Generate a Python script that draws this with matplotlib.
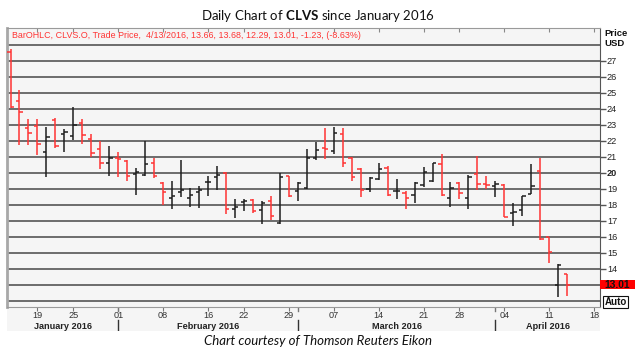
import matplotlib.pyplot as plt
import numpy as np
import pandas as pd
from matplotlib.patches import Rectangle
from matplotlib.transforms import blended_transform_factory

plt.rcParams["mathtext.fontset"] = "custom"
plt.rcParams["mathtext.rm"] = "Lato"
plt.rcParams["mathtext.bf"] = "Lato:bold"

# trading days shown on the axis (data runs to 4/13, axis to 4/18)
holidays = ["2016-01-18", "2016-02-15", "2016-03-25"]
days = pd.bdate_range("2016-01-13", "2016-04-18", freq="C", holidays=holidays)

opens = [27.59, 24.50, 22.79, 22.94, 21.29, 23.31, 22.44, 22.31, 23.14, 22.11,
         21.48, 20.61, 20.96, 20.77, 19.92, 19.88, 20.61, 19.39, 18.42, 18.83,
         18.45, 18.81, 19.41, 19.75, 19.98, 17.77, 18.19, 18.33, 17.67, 18.25,
         16.86, 19.79, 18.86, 19.04, 20.92, 21.54, 21.38, 22.41, 20.92, 20.22,
         18.98, 19.61, 20.31, 18.89, 18.77, 18.63, 19.25, 19.52, 20.54, 18.42,
         19.36, 18.42, 19.94, 19.29, 19.17, 19.27, 17.52, 17.69, 18.71, 20.14,
         16.00, 12.98, 13.66]
highs = [27.73, 25.19, 23.39, 23.39, 22.88, 23.44, 22.73, 24.14, 23.39, 22.44,
         22.02, 21.69, 21.29, 20.81, 20.33, 22.02, 20.92, 19.46, 19.50, 20.81,
         19.04, 19.19, 19.79, 20.44, 20.06, 18.36, 18.38, 18.36, 18.24, 18.54,
         19.98, 19.81, 19.41, 21.49, 21.94, 22.84, 22.88, 22.83, 21.00, 20.29,
         19.72, 20.63, 20.42, 19.61, 18.89, 19.46, 20.39, 20.64, 21.19, 19.46,
         19.46, 19.88, 21.09, 19.81, 19.50, 19.33, 18.11, 18.59, 20.56, 20.92,
         16.02, 14.30, 13.68]
lows = [24.06, 21.75, 21.75, 21.13, 19.77, 21.54, 21.31, 22.06, 21.79, 21.02,
        20.23, 19.81, 19.73, 19.50, 18.63, 19.81, 19.71, 18.00, 17.73, 18.52,
        17.90, 17.79, 18.56, 18.96, 17.46, 17.17, 17.64, 17.50, 16.83, 17.04,
        16.81, 18.50, 18.24, 18.98, 20.81, 20.86, 21.17, 20.39, 19.50, 18.52,
        18.83, 19.56, 18.56, 18.38, 17.73, 18.14, 19.11, 19.46, 18.56, 17.86,
        18.36, 17.73, 18.94, 18.98, 18.50, 17.25, 16.69, 17.31, 18.69, 15.81,
        14.39, 12.25, 12.29]
closes = [24.14, 23.81, 22.48, 21.79, 22.25, 21.69, 22.54, 23.00, 22.38, 21.23,
          20.63, 20.92, 20.88, 19.81, 20.08, 20.56, 19.83, 18.83, 18.59, 18.94,
          18.60, 18.94, 19.46, 19.88, 17.77, 17.89, 18.27, 17.63, 18.13, 17.34,
          19.77, 18.59, 19.38, 20.96, 21.44, 21.50, 22.48, 20.61, 19.77, 18.94,
          19.67, 20.23, 18.63, 18.90, 18.42, 19.36, 20.08, 20.61, 18.63, 19.04,
          18.73, 19.77, 19.29, 19.22, 19.33, 17.27, 17.55, 18.54, 19.17, 15.86,
          15.03, 14.24, 13.01]
price_ticks = list(range(13, 28))
last_price = "13.01"
header = "BarOHLC, CLVS.O, Trade Price,  4/13/2016, 13.66, 13.68, 12.29, 13.01, -1.23, (-8.63%)"

RED = "#ff3333"
DARK = "#1e1e1e"
BG = "#f5f5f5"
W, H = 635, 353

fig = plt.figure(figsize=(W / 100, H / 100), dpi=100)
fig.patch.set_facecolor("white")

# date band under the chart
band = fig.add_axes([7 / W, (H - 331) / H, 593 / W, 24.3 / H])
band.set_facecolor(BG)
for s in band.spines.values():
    s.set_visible(False)
band.set_yticks([])
band.set_ylim(0, 1)

ax = fig.add_axes([7 / W, (H - 306.7) / H, 593 / W, 278.7 / H])
ax.set_facecolor(BG)
ax.set_xlim(-0.39, 65.65)
ax.set_ylim(11.64, 29.06)
band.set_xlim(ax.get_xlim())

# grid
for p in range(12, 29):
    ax.axhline(p, color="#555555", lw=1.2, zorder=1)

# OHLC bars
x = np.arange(len(opens))
o, hi, lo, c = map(np.array, (opens, highs, lows, closes))
cols = np.where(c < o, RED, DARK)
tw = 0.36
ax.vlines(x, lo, hi, colors=cols, lw=1.1, zorder=3)
ax.hlines(o, x - tw, x, colors=cols, lw=1.1, zorder=3)
ax.hlines(c, x, x + tw, colors=cols, lw=1.1, zorder=3)

# right price axis
ax.yaxis.tick_right()
ax.set_yticks(price_ticks)
ax.set_yticklabels(["" if p == 13 else str(p) for p in price_ticks])
ax.tick_params(axis="y", length=4, width=1, color="#555555", pad=1,
               labelsize=6.6, labelcolor="#222222")
for lab in ax.get_yticklabels():
    lab.set_family("Liberation Sans")
    if lab.get_text() == "20":
        lab.set_fontweight("bold")

# week ticks and month separators
week = days.isocalendar().week.values
wk = [i for i in range(1, len(days)) if week[i] != week[i - 1]]
mstart = [i for i in range(1, len(days)) if days[i].month != days[i - 1].month]
ax.set_xticks(wk)
ax.tick_params(axis="x", which="both", bottom=False, top=True, direction="in",
               length=3, color="#888888", labeltop=False, labelbottom=False)
band.set_xticks(wk)
band.tick_params(axis="x", bottom=False, top=True, direction="in", length=3,
                 color="#777777", labeltop=False, labelbottom=False)
tb = blended_transform_factory(band.transData, band.transAxes)
for i in wk:
    band.text(i, 0.63, days[i].strftime("%d"), transform=tb, ha="center",
              va="center", fontsize=6.6, color="#333333", family="Liberation Sans")
edges = [ax.get_xlim()[0]] + mstart + [ax.get_xlim()[1]]
for k in range(len(edges) - 1):
    d = days[max(int(np.ceil(edges[k])), 0)]
    band.text((edges[k] + edges[k + 1]) / 2, 0.2, d.strftime("%B %Y"),
              transform=tb, ha="center", va="center", fontsize=6.6,
              fontweight="bold", color="#222222", family="Liberation Sans")
for i in mstart:
    band.plot([i, i], [0.0, 0.45], transform=tb, color="#333333", lw=1)
    band.plot([i, i], [0.82, 0.93], transform=tb, color="#777777", lw=1)

# spines
ax.spines["left"].set_color("#a8a8a8")
ax.spines["left"].set_linewidth(2)
ax.spines["top"].set_color("#9a9a9a")
ax.spines["right"].set_color("#555555")
ax.spines["bottom"].set_color("#9a9a9a")

# header inside the chart
ax.text((12 - 7) / 593, 1 - 8 / 278.7, header, transform=ax.transAxes,
        ha="left", va="center", fontsize=6.4, color=RED, family="Liberation Sans")

# last price marker
tr = blended_transform_factory(ax.transAxes, ax.transData)
ax.add_patch(Rectangle((1.0, float(last_price) - 0.27), 35 / 593, 0.54,
                       transform=tr, facecolor="#ff0000", edgecolor="none",
                       clip_on=False, zorder=5))
ax.text(1.0 + 17.5 / 593, float(last_price), last_price, transform=tr,
        ha="center", va="center", fontsize=7.4, fontweight="bold",
        color="#111111", family="Liberation Sans", zorder=6)

fig.text(615.5 / W, 1 - 302 / H, "Auto", ha="center", va="center", fontsize=7,
         fontweight="bold", family="Liberation Sans", color="#111111",
         bbox=dict(boxstyle="square,pad=0.12", facecolor="white",
                   edgecolor="#111111", lw=0.8))
fig.text(604 / W, 1 - 33 / H, "Price", ha="left", va="center", fontsize=6.8,
         fontweight="bold", family="Liberation Sans", color="#111111")
fig.text(604 / W, 1 - 44 / H, "USD", ha="left", va="center", fontsize=6.8,
         fontweight="bold", family="Liberation Sans", color="#111111")

# title and caption
fig.text(0.5, 1 - 16 / H, "Daily Chart of $\\mathbf{CLVS}$ since January 2016",
         ha="center", va="center", fontsize=9.5, family="Lato", color="#111111")
fig.text(0.5, 1 - 341 / H, "Chart courtesy of Thomson Reuters Eikon",
         ha="center", va="center", fontsize=9.5, family="Lato", style="italic",
         color="#111111")

fig.savefig("out.png", dpi=100)
